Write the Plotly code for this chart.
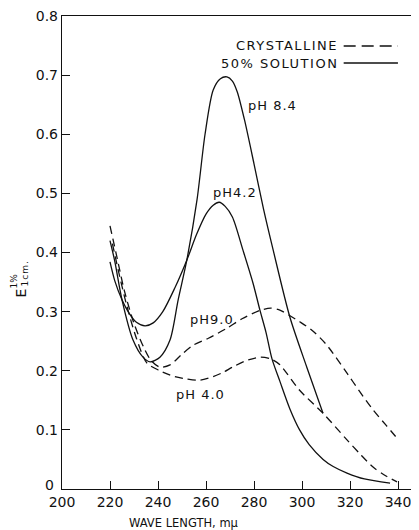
import plotly.graph_objects as go

# ---- data ----
x_ph84 = [220, 222, 225, 229.6, 233.75, 236.7, 240.8, 245, 248.4, 252, 256.25, 259.6, 263, 266, 268.75, 271, 273, 276, 280, 284, 288, 295, 302, 308.75]
y_ph84 = [0.42, 0.385, 0.32, 0.252, 0.223, 0.215, 0.223, 0.252, 0.32, 0.387, 0.489, 0.60, 0.675, 0.694, 0.697, 0.69, 0.672, 0.625, 0.55, 0.473, 0.404, 0.29, 0.206, 0.128]

x_ph42 = [220, 222, 225, 228, 231, 234.6, 238, 242, 247, 252, 256, 260, 263, 265.5, 268, 271, 275.4, 279.6, 282.5, 285, 287.5, 290.8, 295, 299, 303, 308.8, 313, 318.75, 326, 336.7]
y_ph42 = [0.384, 0.352, 0.32, 0.297, 0.282, 0.276, 0.281, 0.3, 0.34, 0.387, 0.43, 0.465, 0.48, 0.485, 0.478, 0.46, 0.404, 0.348, 0.302, 0.265, 0.22, 0.182, 0.135, 0.1, 0.075, 0.05, 0.038, 0.027, 0.017, 0.01]

x_ph90 = [220, 223, 226, 230, 234, 237, 240.8, 245, 250, 254.6, 261, 268.75, 275, 282.5, 287, 291, 295, 299, 304, 310, 318.75, 324, 329.6, 335, 339.6]
y_ph90 = [0.445, 0.39, 0.335, 0.28, 0.24, 0.218, 0.206, 0.21, 0.228, 0.243, 0.255, 0.272, 0.288, 0.302, 0.306, 0.302, 0.293, 0.283, 0.269, 0.245, 0.196, 0.165, 0.134, 0.108, 0.086]

x_ph40 = [221, 224, 227, 231, 235.4, 240.8, 247, 252, 257.5, 263, 267, 271, 276, 282.5, 287, 290.8, 299, 308.8, 318.75, 324, 329.6, 335, 339.6]
y_ph40 = [0.415, 0.36, 0.31, 0.255, 0.213, 0.2, 0.19, 0.186, 0.184, 0.19, 0.197, 0.206, 0.216, 0.223, 0.22, 0.21, 0.167, 0.128, 0.083, 0.06, 0.037, 0.022, 0.012]

x_ticks = [200, 220, 240, 260, 280, 300, 320, 340]
y_ticks = [0, 0.1, 0.2, 0.3, 0.4, 0.5, 0.6, 0.7, 0.8]
y_ticktext = ["", "0.1", "0.2", "0.3", "0.4", "0.5", "0.6", "0.7", "0.8"]
y_zero_label = "0"

curve_labels = ["pH 8.4", "pH4.2", "pH9.0", "pH 4.0"]
label_x = [287.9, 272.1, 262.5, 257.5]
label_y = [0.649, 0.502, 0.286, 0.159]

legend_texts = ["CRYSTALLINE", "50% SOLUTION"]
x_title = "WAVE LENGTH, m\u03bc"
y_title_main, y_title_sup, y_title_sub = "E", "1%", "1cm."

FONT = "DejaVu Sans"
INK = "#111111"


def spaced(text, px):
    return '<span style="letter-spacing:%spx">%s</span>' % (px, text)


fig = go.Figure()


def add_curve(xs, ys, dash):
    fig.add_trace(go.Scatter(
        x=xs, y=ys, mode="lines",
        line=dict(color=INK, width=1.3, dash=dash, shape="spline", smoothing=0.8),
        showlegend=False, hoverinfo="skip"))


add_curve(x_ph84, y_ph84, "solid")
add_curve(x_ph42, y_ph42, "solid")
add_curve(x_ph90, y_ph90, "8px,5px")
add_curve(x_ph40, y_ph40, "8px,5px")

annotations = []
for t, lx, ly in zip(curve_labels, label_x, label_y):
    annotations.append(dict(x=lx, y=ly, xref="x", yref="y", text=spaced(t, 1), showarrow=False,
                            font=dict(family=FONT, size=13, color=INK)))

# the "0" tick label sits a little above the axis in the reference
annotations.append(dict(x=0, y=y_ticks[0], xref="paper", yref="y", text=y_zero_label,
                        xanchor="right", yanchor="middle", xshift=-6, yshift=4, showarrow=False,
                        font=dict(family=FONT, size=14, color=INK)))

# legend texts (right-aligned, line samples to their right)
for t, ly in zip(legend_texts, [0.9366, 0.9006]):
    annotations.append(dict(x=0.778, y=ly, xref="paper", yref="paper", text=spaced(t, 1.5),
                            xanchor="right", yanchor="middle", showarrow=False,
                            font=dict(family=FONT, size=13, color=INK)))

# x axis title
annotations.append(dict(x=251, y=-0.072, xref="x", yref="paper", text=x_title,
                        xanchor="center", yanchor="middle", showarrow=False,
                        font=dict(family=FONT, size=11.5, color=INK)))
# y axis title: E with stacked 1% / 1cm.
annotations.append(dict(x=-0.1176, y=0.4133, xref="paper", yref="paper", text=y_title_main,
                        textangle=-90, xanchor="center", yanchor="middle", showarrow=False,
                        font=dict(family=FONT, size=14, color=INK)))
annotations.append(dict(x=-0.1345, y=0.4408, xref="paper", yref="paper", text=y_title_sup,
                        textangle=-90, xanchor="center", yanchor="middle", showarrow=False,
                        font=dict(family=FONT, size=9, color=INK)))
annotations.append(dict(x=-0.1064, y=0.4556, xref="paper", yref="paper", text=spaced(y_title_sub, 1),
                        textangle=-90, xanchor="center", yanchor="middle", showarrow=False,
                        font=dict(family=FONT, size=9, color=INK)))

shapes = [
    dict(type="line", xref="paper", yref="paper", x0=0.789, x1=0.941, y0=0.9366, y1=0.9366,
         line=dict(color=INK, width=1.3, dash="12px,6px")),
    dict(type="line", xref="paper", yref="paper", x0=0.789, x1=0.941, y0=0.9006, y1=0.9006,
         line=dict(color=INK, width=1.3)),
]

# the page body has an 8px margin: size the figure so the plot lands where the reference has it
fig.update_layout(
    width=411, height=522,
    margin=dict(l=54, r=0, t=8, b=41),
    paper_bgcolor="white", plot_bgcolor="white",
    annotations=annotations, shapes=shapes,
    showlegend=False,
    font=dict(family=FONT, color=INK),
)
fig.update_xaxes(range=[200, 348.75], tickvals=x_ticks, ticks="inside", ticklen=8,
                 tickwidth=1.2, tickcolor=INK, showline=True, linecolor=INK, linewidth=1.4,
                 mirror=True, showgrid=False, zeroline=False, ticklabeloverflow="allow",
                 tickfont=dict(family=FONT, size=14, color=INK))
fig.update_yaxes(range=[0, 0.8], tickvals=y_ticks, ticktext=y_ticktext, ticks="inside",
                 ticklen=8, tickwidth=1.2, tickcolor=INK, showline=True, linecolor=INK,
                 linewidth=1.4, showgrid=False, zeroline=False, ticklabeloverflow="allow",
                 tickfont=dict(family=FONT, size=14, color=INK))

fig.write_html("out.html")
